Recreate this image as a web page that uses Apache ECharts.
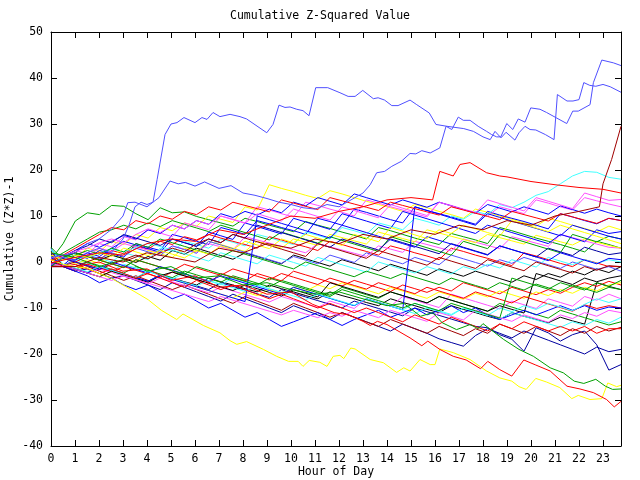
<!DOCTYPE html>
<html><head><meta charset="utf-8">
<script src="https://cdn.jsdelivr.net/npm/echarts@6/dist/echarts.min.js"></script>
<style>html,body{margin:0;padding:0;background:#fff}#c{width:640px;height:480px}</style>
</head><body><div id="c"></div>
<script>
// Day runs 0 .. 23.75 h; middle series are read at evenly spaced samples over the day
const dayEnd = 23.75;
const yTicks = [-40,-30,-20,-10,0,10,20,30,40,50];

// traced envelope series: [hour, value]
const top1 = [[0,-0.5],[0.5,1],[1,0.5],[1.5,2],[2,3],[2.5,2],[3,5],[3.25,8],[3.5,12],[3.75,13],[4,12.5],[4.25,13],[4.42,17.9],[4.75,27.7],[5,30],[5.25,30.3],[5.54,31.4],[6,30.3],[6.29,31.4],[6.5,31],[6.75,32.5],[7.04,31.6],[7.46,32.1],[7.875,31.6],[8.15,31.1],[8.99,28.1],[9.25,29.9],[9.5,34.1],[9.75,33.6],[9.96,33.7],[10.24,33.2],[10.5,32.9],[10.75,31.8],[11.03,37.9],[11.53,37.9],[12.04,36.8],[12.38,36],[12.67,36],[12.99,37.3],[13.43,35.5],[13.63,35.7],[13.9,35.2],[14.2,34],[14.46,34],[14.96,35.2],[15.24,34.2],[15.76,32.4],[16.04,29.9],[16.5,29.5],[17.2,29.0],[17.6,28.4],[18.0,27.2],[18.3,26.6],[18.5,28.4],[18.75,27.0],[18.96,28.2],[19.33,26.5],[19.5,28.1],[19.75,29.5],[19.96,28.8],[20.2,28.7],[20.6,27.7],[20.96,26.6],[21.1,36.4],[21.5,35.0],[21.75,35.0],[22.0,35.3],[22.2,39.0],[22.45,38.4],[22.7,38.2],[23.0,38.6],[23.3,38.1],[23.75,36.9]];
const top2 = [[0,1],[0.5,1.5],[1,2],[1.5,4],[2,5],[2.5,7],[3,10],[3.2,12.9],[3.5,13],[4,12],[4.5,14],[4.96,17.6],[5.3,17],[5.6,17.3],[6,16.5],[6.4,17.4],[7,16],[7.5,16.6],[8,15],[8.5,14.5],[9,13.8],[9.5,13],[10,12.5],[10.5,11.8],[11,11.5],[11.5,12.5],[12,12],[12.5,13.5],[13,15],[13.3,16.8],[13.57,19.4],[13.9,19.7],[14.2,20.8],[14.6,21.9],[14.96,23.6],[15.2,23.5],[15.45,24.2],[15.8,23.7],[16.2,24.8],[16.46,29.5],[16.7,28.8],[16.97,31.5],[17.18,30.8],[17.46,30.8],[17.8,29.5],[18.15,28.4],[18.36,27.7],[18.57,27.2],[18.74,27.2],[18.99,30.1],[19.24,28.8],[19.47,31.1],[19.75,30.4],[19.99,33.5],[20.375,33.2],[20.65,32.5],[21.07,31.3],[21.49,30.1],[21.74,32.8],[21.97,32.8],[22.46,34.2],[22.6,39.0],[22.95,43.9],[23.43,43.3],[23.75,42.7]];
const yellowLow = [[0,0.5],[0.5,-0.5],[1,-1],[1.5,-1.3],[2,-2.5],[2.5,-3.5],[3,-5],[3.5,-6.5],[4.05,-8.2],[4.6,-10.5],[5.24,-12.5],[5.5,-11.3],[6.35,-13.8],[7.04,-15.4],[7.46,-17.1],[7.74,-17.9],[8.15,-17.3],[8.85,-19.0],[9.4,-20.5],[9.9,-21.6],[10.3,-21.6],[10.5,-22.7],[10.76,-21.4],[11.2,-21.8],[11.5,-22.7],[11.76,-20.5],[12.04,-20.3],[12.2,-21.0],[12.49,-18.7],[12.67,-18.9],[13.3,-21.2],[13.85,-21.9],[14.4,-24.0],[14.7,-23.0],[14.96,-23.7],[15.375,-21.2],[15.8,-22.3],[16.0,-22.3],[16.2,-18.9],[16.76,-19.7],[17.46,-21.2],[18.15,-23.7],[18.7,-25.2],[19.2,-25.9],[19.5,-27.1],[19.8,-27.7],[20.2,-25.3],[20.65,-26.1],[21.2,-27.3],[21.7,-29.7],[21.97,-29.0],[22.46,-29.9],[22.95,-29.7],[23.2,-26.3],[23.57,-27.1],[23.75,-26.8]];
const redLow = [[0,-1],[1,-1],[2,0],[3,-2],[4,-1.5],[5,-4],[6,-3],[7,-5.5],[8,-5],[9,-7],[10,-6.5],[10.9,-9.2],[11.8,-11],[12.4,-11.5],[13.0,-12.9],[13.3,-13.8],[13.6,-12.9],[14.0,-13.6],[14.96,-16.5],[15.45,-18.2],[15.7,-17.2],[16.2,-19.0],[16.76,-20.5],[17.3,-21.3],[17.9,-23.2],[18.2,-21.6],[18.7,-23.4],[19.2,-24.8],[19.7,-21.3],[20.2,-22.4],[20.8,-23.7],[21.5,-27.0],[22.04,-27.6],[22.6,-28.4],[23.15,-29.9],[23.47,-31.5],[23.75,-30.3]];
const greenLow = [[0,2],[1,1],[2,-1],[3,0.5],[4,-2],[5,-1],[6,-3.5],[7,-3],[8,-5],[9,-4.5],[10,-6],[11,-7],[12,-6.5],[13,-8],[14,-9.5],[14.7,-9],[15.4,-11.8],[15.9,-11],[16.3,-13.2],[16.9,-14.7],[17.46,-13.6],[17.8,-14.5],[18.0,-13.4],[18.85,-16.8],[19.5,-19],[20.1,-20.5],[20.8,-23],[21.35,-24.1],[21.8,-25.9],[22.2,-26.4],[22.7,-25.5],[23.1,-27],[23.4,-27.7],[23.75,-27.6]];
const darkRedEnd = [[0,-1],[1,-1],[2,1],[3,0],[4,2],[5,1],[6,0],[7,3],[8,2],[9,4],[10,3],[11,5],[12,4],[13,6],[14,5],[15,7],[16,6],[17,8],[18,7],[19,9],[20,8],[21,10],[22,11],[22.85,12],[23.0,17],[23.36,22.3],[23.75,29.5]];
const redTop = [[0,-0.2],[1,1],[2,2],[3,1.5],[4,4],[5,5],[6,4.5],[7,7],[8,6],[9,8],[10,10],[11,9.5],[12,11],[13,12],[14,13.5],[15,14],[15.9,13.5],[16.2,19.7],[16.76,18.7],[17.04,21.2],[17.46,21.6],[18.15,19.4],[18.7,18.7],[19,18.5],[20,17.5],[21,16.8],[22,16.2],[23,15.8],[23.75,15]];

// middle series, values read at evenly spaced samples across the day
const s01 = [0.5,4,8.9,10.7,10.3,12.3,12.1,10.5,9.2,11.8,10.7,10.9,9.9,9.2,8.5,7.8,9.5,8.8,8,7.3,6.6,8.8,8,7.3,6.5,5.8,5,7.5,6.8,6,5.2,4.5,3.8,6.2,5.5,4.8,4,7.5,6.8,6,5.2,4.5,3.8,3,2.2,4.5,3.8,3];
const s02 = [-0.8,1.5,0.8,3,2.3,4.5,3.8,6,5.2,7.5,6.8,8.5,7.8,10,9.3,8.6,12,11.3,16.8,16,15.3,14.5,13.8,15.5,14.8,14,13.2,12.5,11.8,11,12.5,11.8,11,10.3,9.5,11.5,10.8,10,9.3,8.5,7.8,9.5,8.8,8,7.3,6.5,7.8,7];
const s03 = [-0.5,-0.7,1.5,0.8,2.5,1.8,1,4,3.2,2.5,6,5.3,4.5,3.8,7.5,6.8,6,9,8.3,7.5,6.8,6,9.5,8.8,8,11.5,10.8,10,9.2,8.5,12,11.2,10.5,9.8,9,8.2,11,10.2,9.5,8.8,8,7.2,10.5,9.8,9,8.3,9.5,9];
const s04 = [1,1.2,2.5,1.8,4,3.3,5.5,4.8,7,6.3,5.5,8.5,7.8,7,10,9.3,8.5,12,11.3,10.5,9.8,13,12.3,11.5,10.8,10,13.5,12.8,12,11.3,10.5,9.8,13,12.3,11.5,10.8,10,12,11.3,10.5,13.5,12.8,12,11.3,14,13.3,12.6,12];
const s05 = [-1,0.8,0,1.5,0.8,0,2,1.3,0.5,3,2.3,4.5,3.8,3,5,4.3,3.5,6,5.3,4.5,3.8,6.5,5.8,5,7.5,6.8,6,8.5,7.8,7,9.5,8.8,8,10,9.3,11,10.3,12.5,11.8,13,14.5,15.3,17,18.7,19.7,19.5,18.4,18];
const s06 = [-0.6,-0.8,-1.5,-2.3,-1.2,-2,-2.8,-3.5,-2,-2.8,-3.5,-4.3,-5,-3.5,-4.3,-5,-5.8,-6.5,-5,-5.8,-6.5,-7.3,-8,-6.5,-7.3,-8,-8.8,-9.5,-8,-8.8,-9.5,-10.3,-11,-9.5,-10.3,-11,-11.8,-12.5,-11,-11.8,-12.5,-13.2,-12,-12.8,-13.5,-4.5,-5.3,-6];
const s07 = [0.8,-1,-2,-1.5,-2.5,-3.5,-3,-4,-5,-6,-4.5,-5.5,-6.5,-7.5,-8.5,-7,-8,-9,-10,-11,-9.5,-10.5,-11.5,-12.5,-11,-12,-13,-14,-15,-13.5,-14.5,-15.5,-16.7,-17.5,-18.3,-16,-14.5,-15.5,-16.5,-15,-16,-17,-18,-19,-20,-18.5,-19.5,-19];
const s08 = [-0.9,-0.8,-1.6,-2.4,-1,-1.8,-2.6,-3.4,-4.2,-2.8,-3.6,-4.4,-5.2,-6,-4.5,-5.3,-6.1,-6.9,-7.7,-6,-6.8,-7.6,-8.4,-9.2,-10,-8.5,-9.3,-10.1,-10.9,-11.7,-10,-10.8,-11.6,-12.4,-13.2,-14,-14.3,-15.8,-16.8,-19.4,-14.3,-15.4,-17.2,-15.8,-15,-18,-23.5,-22.3];
const s09 = [2,1,2,1.3,0.5,2.5,1.8,3.5,2.8,4.5,3.8,5.5,4.8,6,5.2,4.5,3.8,3,5.5,4.8,4,3.3,2.5,4.5,3.8,3,2.3,1.5,3.5,2.8,2,1.3,0.5,3,2.3,1.5,0.8,0,-0.8,2,1.3,0.5,-0.3,-1,0.5,-0.2,-1,-1];
const s10 = [-1,-0.8,-1.6,0,-0.8,-1.6,-2.4,-1,-1.8,-2.6,-3.4,-2,-2.8,-3.6,-4.4,-3,-3.8,-4.6,-5.4,-4,-4.8,-5.6,-6.4,-7.2,-5.5,-6.3,-7.1,-7.9,-6.5,-7.3,-8.1,-8.9,-7.5,-8.3,-9.1,-9.9,-10.7,-9,-9.8,-10.6,-11.4,-12.2,-10.5,-11.3,-12.1,-12.9,-13.7,-13];
const s11 = [-0.7,0.8,2,1.3,3,2.3,4,3.3,2.6,1.9,3.5,2.8,2.1,4,3.3,2.6,5.5,4.8,4.1,3.4,2.7,2,4,3.3,2.6,1.9,1.2,3.5,2.8,2.1,4.5,3.8,3.1,2.4,5,4.3,3.6,2.9,5.5,4.8,4.1,3.4,6,5.3,4.6,3.9,3.2,3];
const s12 = [1.2,-0.8,0.5,-0.3,-1.1,-1.9,-0.5,-1.3,-2.1,-2.9,-3.7,-2.5,-3.3,-4.1,-4.9,-3.5,-4.3,-5.1,-5.9,-6.7,-5.5,-6.3,-7.1,-7.9,-8.7,-9.5,-8,-8.8,-9.6,-10.4,-11.2,-10,-10.8,-11.6,-10,-10.8,-11.6,-12.4,-11,-11.8,-12.6,-13.4,-14.2,-13,-13.8,-12.5,-13.3,-12];
const s13 = [0.3,1,-0.5,0.5,-0.3,1.5,0.8,0,2.5,1.8,1,3,2.3,4.5,3.8,3,2.3,4.5,3.8,3,5,4.3,3.6,6,5.3,4.6,3.9,6.5,5.8,5.1,4.4,7,6.3,5.6,4.9,4.2,6,5.3,4.6,3.9,5.8,5.1,4.4,3.7,5,4.3,3.6,3];
const s14 = [-1,1,2,1.2,0.4,1.5,0.7,-0.1,1.2,0.4,2.5,1.7,3,2.2,1.4,0.6,2,1.2,0.4,-0.4,1.5,0.7,-0.1,-0.9,0.5,-0.3,-1.1,-1.9,-0.5,-1.3,-2.1,-2.9,-1.5,-2.3,-3.1,-2,-2.8,-3.6,-4.4,-3,-3.8,-2.5,-3.3,-2,-2.8,-1.5,-2.3,-1];
const s15 = [1.5,-1,-2,-1,-2,-3,-4,-3,-4,-5,-6,-5,-6,-7,-8,-9,-7.5,-8.5,-9.5,-10.5,-9,-10,-11,-12,-11,-12,-13,-14,-12.5,-13.5,-14.5,-15.5,-14,-15,-16,-14.5,-15.5,-13.5,-14.5,-15.5,-14,-15,-16,-14.5,-15.5,-14,-15,-14.2];
const s16 = [-0.8,1.2,2.5,4,3.2,4.5,5.8,5,7,6.2,8,7.2,9,8.2,10.5,9.7,11,10.2,11.5,10.7,13,12.2,14,13.2,12.4,14.8,14,13.2,12.4,13.5,12.7,11.9,13,12.2,11.4,10.6,12.5,11.7,10.9,12,11.2,10.4,12.2,11.4,10.6,11.5,10.7,10];
const s17 = [3,-0.8,0.5,1.5,0.7,2,1.2,3,2.2,1.4,3.5,2.7,1.9,4.5,3.7,2.9,2.1,1.3,0.5,-0.3,1.2,0.4,-0.4,1.5,0.7,-0.1,2,1.2,0.4,-0.4,1,0.2,-0.6,1.5,0.7,-0.1,-0.9,0.5,-0.3,1,0.2,-0.6,-1.4,0,-0.8,-1.6,-1,-2];
const s18 = [-1,-0.8,-1.6,-0.5,-1.3,-2.1,-1,-1.8,-2.6,-3.4,-2.2,-3,-3.8,-4.6,-2.5,-3.3,-4.1,-2.5,-3.3,-4.1,-2,-2.8,-3.6,-4.4,-5.2,-4,-4.8,-5.6,-6.4,-5,-5.8,-6.6,-5.5,-6.3,-4.5,-5.3,-6.1,-6.9,-5.5,-6.3,-7.1,-6,-6.8,-5.5,-4.5,-5.3,-4.2,-5];
const s19 = [0.5,2,3.5,5,6.5,7,8,7.2,8.5,7.7,9,8.2,7.4,6.6,8,7.2,6.4,5.6,4.8,6.5,5.7,4.9,4.1,5.5,4.7,3.9,3.1,2.3,5.5,4.7,3.9,3.1,2.3,1.5,4.5,3.7,2.9,6,5.2,4.4,3.6,2.8,2,6,5.2,4.4,5.6,5];
const s20 = [1.8,1.2,0.4,2,1.2,3,4.5,3.7,2.9,2.1,5,4.2,3.4,6.5,5.7,4.9,8.5,7.7,6.9,6.1,9.5,8.7,7.9,7.1,10.5,9.7,8.9,8.1,7.3,11,10.2,9.4,8.6,7.8,7,6.2,8,7.2,6.4,5.6,4.8,4,6,5.2,4.4,7,6.2,6.6];
const s21 = [-0.9,-0.8,-1.6,-2.4,-1.5,-2.3,-3.1,-3.9,-4.7,-3.5,-4.3,-5.1,-5.9,-6.7,-5.5,-6.3,-7.1,-7.9,-8.7,-7.5,-8.3,-9.1,-9.9,-8.5,-9.3,-10.1,-8,-8.8,-9.6,-7.5,-8.3,-9.1,-9.9,-7,-7.8,-8.6,-9.4,-10.2,-8.5,-9.3,-10.1,-8,-8.8,-9.6,-7.5,-8.3,-7,-8];
const s22 = [2.5,0.8,1.6,1,2,2.8,2.2,3.2,4,3.4,2.6,1.8,1,0.2,2,1.2,0.4,-0.4,1.5,0.7,-0.1,-0.9,1,0.2,-0.6,-1.4,-2.2,0,-0.8,-1.6,-2.4,-1,-1.8,-2.6,-1,-1.8,-0.5,-1.3,0.5,-0.3,-1.1,1,0.2,-0.6,0.5,-0.3,0.5,0];
const s23 = [-1,-0.8,-1.6,-2.4,-3.2,-2,-2.8,-3.6,-4.4,-3,-3.8,-4.6,-5.4,-6.2,-7,-7.8,-6.5,-7.3,-6,-6.8,-5.5,-6.3,-5,-5.8,-4.5,-5.3,-6.1,-6.9,-5.5,-6.3,-7.1,-7.9,-6.5,-7.3,-8.1,-6.8,-7.6,-6.3,-7.1,-7.9,-6.5,-7.3,-6,-6.8,-5.5,-6.3,-5,-4.5];
const s24 = [0,-0.8,-1.6,-2.4,-3.2,-2,-2.8,-3.6,-4.4,-3,-2.2,-3,-3.8,-4.6,-5.4,-6.2,-5,-5.8,-6.6,-7.4,-6,-6.8,-7.6,-4.5,-5.3,-6.1,-6.9,-7.7,-6.5,-7.3,-8.1,-8.9,-7.5,-8.3,-9.1,-9.9,-10.7,-9.5,-10.3,-11.1,-2.5,-3.3,-4.1,-4.9,-3.5,-4.3,-3.5,-3];
const s25 = [-0.5,0.8,0,1.2,0.4,-0.4,-1.2,0.5,-0.3,-1.1,-1.9,-0.5,-1.3,-2.1,-2.9,-1.5,-2.3,-3.1,-3.9,-2.5,-3.3,-4.1,-4.9,-3.5,-4.3,-5.1,-5.9,-4.5,-5.3,-6.1,-6.9,-5.5,-6.3,-7.1,-7.9,-6.5,-7.3,-8.1,-8.9,-7.5,-8.3,-9.1,-9.9,-10.7,-9.3,-10.1,-9.5,-10];
const s26 = [3.2,0.5,1.5,2.5,1.7,3,2.2,4,3.2,5,4.2,3.4,2.6,1.8,1,2.5,1.7,0.9,0.1,-0.7,-1.5,0,-0.8,-1.6,-2.4,-3.2,-2,-2.8,-3.6,-2.5,-3.3,-4.1,-4.9,-3.5,-4.3,-5.1,-5.9,-4.5,-5.3,-6.1,-4.8,-5.6,-6.4,-5,-5.8,-6.6,-5.5,-6];
const s27 = [-1,1,2.5,3.5,5,4.2,6,5.2,4.4,3.6,5,4.2,3.4,5,4.2,6,5.2,8,7.2,6.4,5.6,4.8,4,3.2,5,4.2,3.4,2.6,5,4.2,3.4,2.6,1.8,4,3.2,2.4,1.6,3.5,2.7,1.9,1.1,3,2.2,1.4,3.2,2.4,1.6,2];
const s28 = [0.8,1.2,2.4,3,4.2,5,4.2,6,7.2,6.4,8,7.2,9,8.2,10,9.2,8.4,10.5,9.7,8.9,11.5,10.7,9.9,9.1,12,11.2,10.4,9.6,12.5,11.7,10.9,10.1,13,12.2,11.4,10.6,13.5,12.7,11.9,11.1,14,13.2,12.4,11.6,15,14.2,13.4,13.6];
const s29 = [2.2,-0.8,0,-0.8,-1.6,-0.5,0.5,1.5,0.7,2,3,2.2,4,5,4.2,6,5.2,4.4,3.6,2.8,2,1.2,4,3.2,2.4,1.6,0.8,2.5,1.7,0.9,0.1,-0.7,1,0.2,-0.6,-1.4,0.5,-0.3,-1.1,-1.9,0,-0.8,-1.6,-2.4,-1,-1.8,-0.8,-1];
const s30 = [-1,-1,-2,-3,-4.5,-3.5,-5,-6,-5,-6.5,-8,-7,-8.5,-10,-9,-10.5,-12,-11,-12.5,-14,-13,-12,-11,-12.5,-13.8,-12.5,-11.5,-10.5,-12,-11,-10,-11.5,-10.5,-9.5,-11,-10,-11.5,-12.5,-11.5,-10.5,-11.5,-10.5,-9.5,-10.5,-9.5,-10.5,-9.8,-10];
const s31 = [1,-0.8,-1.6,-2.4,-1,-1.8,-2.6,-3.4,-4.2,-3,-3.8,-4.6,-5.4,-6.2,-7,-7.8,-8.6,10,9.2,8.4,7.6,6.8,6,5.2,8,7.2,6.4,5.6,4.8,4,3.2,5.5,4.7,3.9,3.1,2.3,1.5,3.5,2.7,1.9,1.1,0.3,2,1.2,0.4,-0.4,0.8,0.5];
const s32 = [-0.8,0.8,0,-0.8,-1.6,0,-0.8,-1.6,-2.4,-1,-1.8,-2.6,-3.4,-4.2,-3,-3.8,-4.6,-5.4,-6.2,-7,-5.5,-6.3,-7.1,-7.9,-8.7,-9.5,-8,-8.8,-9.6,-10.4,12,11.2,10.4,9.6,8.8,8,10.5,9.7,8.9,8.1,7.3,6.5,5.7,8,7.2,6.4,5.6,5];
const s33 = [0.2,1.5,3,4.5,6,7.5,7,9,8.3,10,9.3,11,10.3,12,11.3,13,12.3,11.6,10.9,13.5,12.8,12.1,11.4,14,13.3,12.6,11.9,11.2,13,12.3,11.6,10.9,10.2,12,11.3,10.6,9.9,9.2,11,10.3,9.6,8.9,10.5,9.8,9.1,8.4,9.5,9];
const s34 = [2.8,-0.5,-1.3,-2.1,-1,-1.8,-2.6,-3.4,-2,-2.8,-3.6,-4.4,-5.2,-4,-4.8,-5.6,-6.4,-5,-5.8,-6.6,-7.4,-8.2,-7,-7.8,-8.6,-9.4,-8,-8.8,-9.6,-10.4,-9,-9.8,-10.6,-11.4,-10,-10.8,-11.6,-10,-10.8,-9.5,-10.3,-9,-9.8,-10.6,-9.2,-8,-8.8,-8];
const s35 = [-0.4,-0.8,-1.6,-2.4,-3.2,-4,-3,-3.8,-4.6,-5.4,-6.2,-7,-7.8,-8.6,-7.5,-8.3,-9.1,-9.9,-10.7,-11.5,-10.5,-11.3,-12.1,-11,-11.8,-10.5,-11.3,-12.1,-10.5,-11.3,-12.1,-12.9,-11,-11.8,-12.6,-10.5,-11.3,-12.1,-12.9,-11.5,-12.3,-13.1,-11.5,-12.3,-11,-11.8,-10.5,-11];
const s36 = [-1,1,2,1.2,0.4,-0.4,-1.2,0.5,-0.3,-1.1,-1.9,-2.7,-1,-1.8,-2.6,-3.4,-4.2,-5,-3.5,-4.3,-5.1,-5.9,-6.7,-7.5,-6,-6.8,-7.6,-8.4,-9.2,-10,-9,-9.8,-10.6,-9,-9.8,-10.6,-11.4,-12.2,-3.5,-4.3,-5.1,-5.9,-4.5,-5.3,-6.1,-4.5,-5.3,-4];
const s37 = [1.5,0.5,1.5,1,2,1.2,3,2.2,1.4,2.5,1.7,0.9,2.5,1.7,3.5,2.7,4.5,3.7,2.9,5,4.2,6,5.2,4.4,3.6,6,5.2,4.4,7.5,6.7,5.9,5.1,7,6.2,8,7.2,6.4,5.6,9,8.2,7.4,6.6,8,7.2,6.4,5.6,4.8,4];
const s38 = [0.6,-1,-0.5,-1.5,-2.5,-1.5,-2.5,-3.5,-2.5,-3.5,-4.5,-5.5,-4,-5,-6,-5,-6,-7,-8,-7,-8,-9,-10,-9,-10,-11,-10,-11,-12,-13,-11.5,-12.5,-13.5,-12,-13,-14,-15,-13.5,-14.5,-13,-14,-15,-14,-15,-14,-15.5,-14.5,-14.5];

const RED='#ff0000', GREEN='#00a000', BLUE='#0000ff', MAG='#ff50ff', CYAN='#40ffff', YEL='#ffff00', BLK='#000000', DRED='#a00000', NAVY='#0000a0', LBLUE='#5050ff';

const sampled = [
  [s01,GREEN],[s02,YEL],[s03,BLUE],[s04,MAG],[s05,CYAN],[s06,BLK],[s07,NAVY],[s08,NAVY],[s09,RED],[s10,GREEN],
  [s11,MAG],[s12,CYAN],[s13,YEL],[s14,BLK],[s15,DRED],[s16,BLUE],[s17,LBLUE],[s18,RED],[s19,GREEN],[s20,BLUE],
  [s21,MAG],[s22,CYAN],[s23,YEL],[s24,BLK],[s25,RED],[s26,GREEN],[s27,NAVY],[s28,MAG],[s29,DRED],[s30,BLUE],
  [s31,BLUE],[s32,BLUE],[s33,RED],[s34,CYAN],[s35,MAG],[s36,GREEN],[s37,YEL],[s38,RED]
];
const traced = [[top1,LBLUE],[top2,LBLUE],[yellowLow,YEL],[redLow,RED],[greenLow,GREEN],[darkRedEnd,DRED],[redTop,RED]];

const series = [];
const mk = (data,col) => ({type:'line', data, showSymbol:false, symbol:'none',
  lineStyle:{width:1,color:col}, silent:true, animation:false, z:2});
sampled.forEach(([vals,col]) => series.push(mk(vals.map((v,i)=>[i*dayEnd/(vals.length-1), v]), col)));
traced.forEach(([pts,col]) => series.push(mk(pts,col)));

const FONT = 'DejaVu Sans Mono';
const txt = {fontFamily:FONT, fontSize:11.5, color:'#000'};
const axisCommon = {
  axisLine:{show:true, onZero:false, lineStyle:{color:'#000',width:1}},
  axisTick:{show:true, inside:true, length:6, lineStyle:{color:'#000'}},
  splitLine:{show:false}
};
const chart = echarts.init(document.getElementById('c'), null, {renderer:'canvas'});
chart.setOption({
  animation:false,
  backgroundColor:'#fff',
  title:{text:'Cumulative Z-Squared Value', left:'center', top:5, textStyle:{...txt, fontWeight:'normal'}},
  grid:{left:51, right:19, top:32, bottom:34, containLabel:false, outerBoundsMode:'none'},
  xAxis:[
    {type:'value', min:0, max:dayEnd, interval:1, position:'bottom', ...axisCommon,
     name:'Hour of Day', nameLocation:'middle', nameGap:20, nameMoveOverlap:false, nameTextStyle:txt,
     axisLabel:{...txt, margin:7, formatter:v=>Number.isInteger(v)?String(v):''}},
    {type:'value', min:0, max:dayEnd, interval:1, position:'top', ...axisCommon,
     axisLabel:{show:false}}
  ],
  yAxis:[
    {type:'value', min:yTicks[0], max:yTicks[yTicks.length-1], interval:10, position:'left', ...axisCommon,
     name:'Cumulative (Z*Z)-1', nameLocation:'middle', nameGap:35, nameMoveOverlap:false, nameRotate:90, nameTextStyle:txt,
     axisLabel:{...txt, margin:8}},
    {type:'value', min:yTicks[0], max:yTicks[yTicks.length-1], interval:10, position:'right', ...axisCommon,
     axisLabel:{show:false}}
  ],
  series: series
});
</script></body></html>
